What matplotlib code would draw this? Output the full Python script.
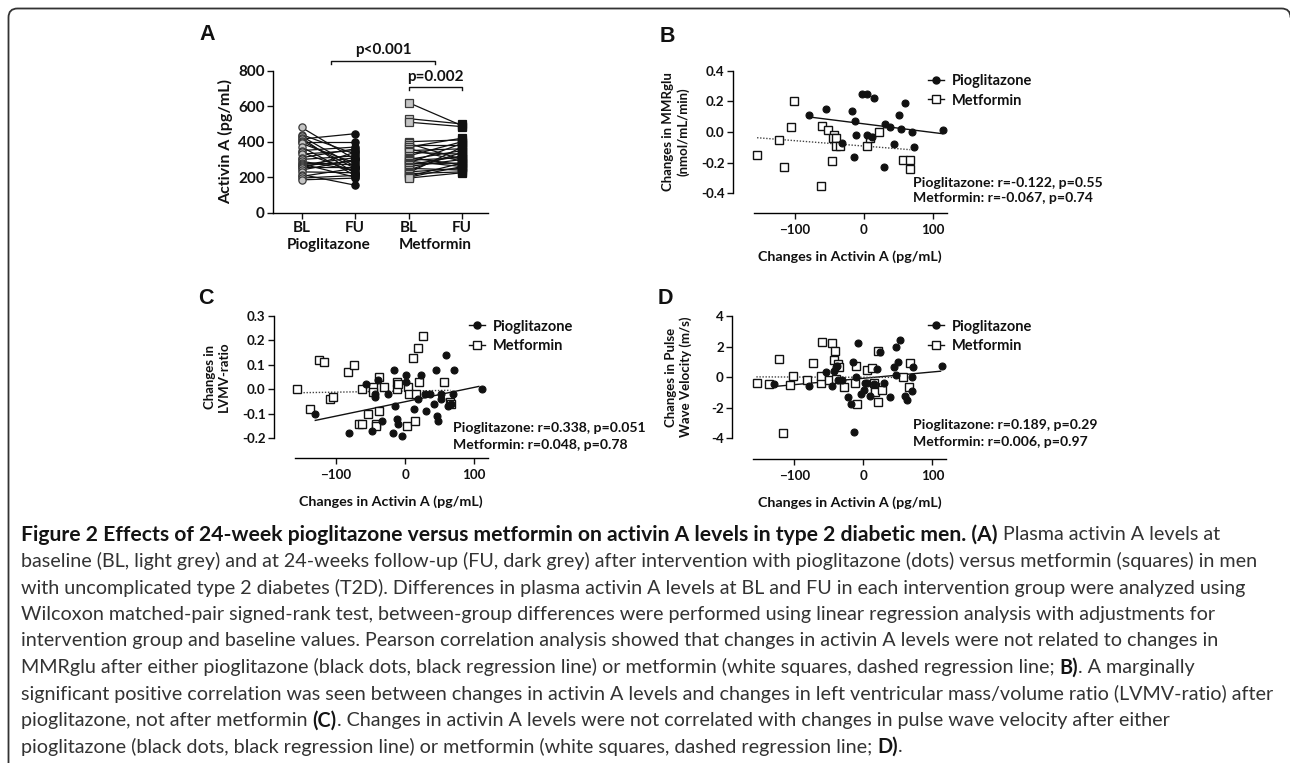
import matplotlib
matplotlib.use('Agg')
import matplotlib.pyplot as plt
from matplotlib.patches import PathPatch
from matplotlib.path import Path
from matplotlib.lines import Line2D
from matplotlib.transforms import IdentityTransform
from matplotlib.ticker import FormatStrFormatter

# ---------------- data ----------------
# Panel A: paired activin A levels (pg/mL)
groups_A = ["Pioglitazone", "Metformin"]
timepoints_A = ["BL", "FU", "BL", "FU"]
pio_bl = [480, 440, 430, 420, 415, 405, 400, 390, 370, 350, 340, 330, 310, 300,
          290, 280, 275, 270, 265, 260, 250, 240, 230, 215, 205, 195, 185]
pio_fu = [300, 330, 260, 220, 445, 250, 400, 280, 210, 370, 230, 350, 360, 320,
          240, 270, 200, 310, 290, 260, 340, 300, 225, 155, 250, 210, 195]
met_bl = [620, 530, 510, 400, 390, 380, 370, 360, 350, 340, 320, 310, 300, 295,
          290, 280, 275, 270, 260, 250, 240, 230, 225, 220, 205, 200, 195]
met_fu = [490, 500, 485, 410, 300, 380, 420, 290, 360, 330, 400, 270, 350, 310,
          260, 390, 280, 320, 300, 240, 340, 250, 370, 230, 280, 260, 225]
p_between = "p<0.001"
p_within_met = "p=0.002"

# Panel B: change in activin A vs change in MMRglu
B_pio_x = [-79, -55, -17, -13, -11, -14, -32, -3, 4, 14, 4, 11, 30, 38, 43, 29, 51, 53, 60, 70, 72, 114]
B_pio_y = [0.11, 0.15, 0.14, 0.07, -0.02, -0.16, -0.07, 0.25, 0.25, 0.22, -0.02, -0.03, 0.05, 0.03,
           -0.08, -0.23, 0.11, 0.02, 0.19, 0.00, -0.10, 0.01]
B_met_x = [-155, -123, -116, -106, -101, -63, -61, -52, -46, -43, -45, -41, -41, -35, 5, 9, 22, 57, 67, 66]
B_met_y = [-0.15, -0.05, -0.23, 0.03, 0.20, -0.35, 0.04, 0.01, -0.19, -0.02, -0.04, -0.04, -0.09,
           -0.09, -0.09, -0.04, 0.00, -0.18, -0.18, -0.24]
B_pio_fit_x, B_pio_fit_y = [-79, 114], [0.098, -0.011]
B_met_fit_x, B_met_fit_y = [-155, 67], [-0.037, -0.115]
B_stats = ["Pioglitazone: r=-0.122, p=0.55", "Metformin: r=-0.067, p=0.74"]

# Panel C: change in activin A vs change in LVMV-ratio
C_pio_x = [-130, -81, -56, -48, -44, -43, -39, -34, -24, -18, -16, -14, -12, -10, -5, 2, 2, 13, 19,
           23, 29, 36, 30, 45, 42, 46, 48, 52, 52, 59, 62, 69, 71, 66, 112]
C_pio_y = [-0.10, -0.18, 0.02, -0.17, -0.02, -0.03, 0.04, -0.13, -0.02, -0.18, 0.08, -0.07, -0.12,
           -0.14, -0.19, 0.06, 0.03, -0.08, -0.04, 0.06, -0.02, -0.02, -0.09, 0.08, -0.06, -0.11,
           -0.13, -0.02, -0.04, 0.14, -0.07, -0.02, 0.08, -0.06, 0.00]
C_met_x = [-156, -138, -125, -118, -108, -104, -83, -74, -66, -62, -62, -53, -47, -46, -42, -42, -38,
           -38, -31, -12, -11, -10, 3, 5, 6, 11, 14, 16, 19, 20, 26, 57, 65, 66]
C_met_y = [0.00, -0.08, 0.12, 0.11, -0.04, -0.03, 0.07, 0.10, -0.14, -0.14, 0.00, -0.10, 0.01, -0.01,
           -0.14, -0.15, -0.09, 0.05, 0.01, 0.00, 0.03, 0.02, -0.15, 0.01, -0.02, 0.13, -0.13, -0.02,
           0.17, 0.03, 0.22, 0.03, -0.05, -0.06]
C_pio_fit_x, C_pio_fit_y = [-130, 107], [-0.127, 0.012]
C_met_fit_x, C_met_fit_y = [-156, 66], [-0.014, -0.004]
C_stats = ["Pioglitazone: r=0.338, p=0.051", "Metformin: r=0.048, p=0.78"]

# Panel D: change in activin A vs change in pulse wave velocity
D_pio_x = [-129, -79, -54, -46, -43, -39, -38, -36, -31, -22, -18, -15, -13, -10, -7, -4, 2, 1, 6, 9,
           15, 20, 24, 30, 38, 44, 48, 48, 51, 53, 61, 64, 70, 71, 72, 114]
D_pio_y = [-0.43, -0.60, 0.33, -0.55, 0.43, 0.65, 0.76, -0.17, -0.20, -1.30, -1.78, 0.98, -3.59,
           -0.02, 2.24, -1.13, -0.37, -0.87, -0.39, -1.26, -0.43, 0.54, 1.63, -0.39, -1.30, 0.65,
           1.96, 0.17, 1.00, 2.43, -1.20, -1.48, -0.91, 0.04, 0.65, 0.70]
D_met_x = [-154, -137, -122, -117, -106, -102, -82, -73, -62, -60, -61, -46, -41, -43, -50, -36, -35,
           -40, -28, -12, -9, -10, 6, 13, 21, 17, 16, 17, 22, 27, 58, 68, 66]
D_met_y = [-0.40, -0.43, 1.17, -3.65, -0.48, 0.05, -0.20, 0.90, -0.40, 2.28, 0.10, 2.26, 1.74, 1.10,
           -0.20, 0.87, 0.65, -0.10, -0.65, -0.37, -1.78, 0.70, 0.50, 0.60, 1.74, -0.65, -0.40,
           -0.98, -1.63, -0.87, 0.00, 0.90, -0.65]
D_pio_fit_x, D_pio_fit_y = [-129, 112], [-0.61, 0.39]
D_met_fit_x, D_met_fit_y = [-155, 68], [0.02, -0.02]
D_stats = ["Pioglitazone: r=0.189, p=0.29", "Metformin: r=0.006, p=0.97"]

x_label = "Changes in Activin A (pg/mL)"
series_names = ["Pioglitazone", "Metformin"]

caption_lines = [
    [("Figure 2 Effects of 24-week pioglitazone versus metformin on activin A levels in type 2 diabetic men. (A)", 'title'),
     (" Plasma activin A levels at", 'body')],
    [("baseline (BL, light grey) and at 24-weeks follow-up (FU, dark grey) after intervention with pioglitazone (dots) versus metformin (squares) in men", 'body')],
    [("with uncomplicated type 2 diabetes (T2D). Differences in plasma activin A levels at BL and FU in each intervention group were analyzed using", 'body')],
    [("Wilcoxon matched-pair signed-rank test, between-group differences were performed using linear regression analysis with adjustments for", 'body')],
    [("intervention group and baseline values. Pearson correlation analysis showed that changes in activin A levels were not related to changes in", 'body')],
    [("MMRglu after either pioglitazone (black dots, black regression line) or metformin (white squares, dashed regression line; ", 'body'),
     ("B)", 'bold'), (". A marginally", 'body')],
    [("significant positive correlation was seen between changes in activin A levels and changes in left ventricular mass/volume ratio (LVMV-ratio) after", 'body')],
    [("pioglitazone, not after metformin ", 'body'), ("(C)", 'bold'),
     (". Changes in activin A levels were not correlated with changes in pulse wave velocity after either", 'body')],
    [("pioglitazone (black dots, black regression line) or metformin (white squares, dashed regression line; ", 'body'),
     ("D)", 'bold'), (".", 'body')],
]

# ---------------- figure ----------------
W, H = 1290, 763
DPI = 100
plt.rcParams['font.family'] = ['Lato', 'DejaVu Sans']
plt.rcParams['axes.linewidth'] = 1.0
fig = plt.figure(figsize=(W / DPI, H / DPI), dpi=DPI)
fig.patch.set_facecolor('white')
INK = '#111111'


def px_axes(left, top, right, bottom):
    return fig.add_axes([left / W, 1 - bottom / H, (right - left) / W, (bottom - top) / H])


def fx(px):
    return px / W


def fy(py):
    return 1 - py / H


# frame: left and top border with rounded corners (display pixel coords, y up)
R = 9
xl, xr, yt = 8.5, 1290.5, H - 8.5
frame_path = Path(
    [(xl, -10), (xl, yt - R), (xl, yt), (xl + R, yt), (xr - R, yt), (xr, yt), (xr, yt - R)],
    [Path.MOVETO, Path.LINETO, Path.CURVE3, Path.CURVE3, Path.LINETO, Path.CURVE3, Path.CURVE3])
frame = PathPatch(frame_path, fill=False, edgecolor='#333333', linewidth=1.3)
frame.set_transform(IdentityTransform())
fig.add_artist(frame)

# ---------------- Panel A ----------------
A_FS = 11
axA = px_axes(273.3, 70.7, 488.3, 212.7)
axA.set_xlim(0.47, 4.49)
axA.set_ylim(0, 800)
pos = [1, 2, 3, 4]
for b, f in zip(pio_bl, pio_fu):
    axA.plot([pos[0], pos[1]], [b, f], color=INK, lw=0.9, zorder=2)
for b, f in zip(met_bl, met_fu):
    axA.plot([pos[2], pos[3]], [b, f], color=INK, lw=0.9, zorder=2)
axA.plot([pos[0]] * len(pio_bl), pio_bl, ls='none', marker='o', ms=5.2, mfc='#c4c4c4', mec='#3a3a3a',
         mew=0.9, zorder=3, clip_on=False)
axA.plot([pos[1]] * len(pio_fu), pio_fu, ls='none', marker='o', ms=5.2, mfc=INK, mec=INK,
         mew=0.9, zorder=3, clip_on=False)
axA.plot([pos[2]] * len(met_bl), met_bl, ls='none', marker='s', ms=5.2, mfc='#c4c4c4', mec='#3a3a3a',
         mew=0.9, zorder=3, clip_on=False)
axA.plot([pos[3]] * len(met_fu), met_fu, ls='none', marker='s', ms=5.2, mfc=INK, mec=INK,
         mew=0.9, zorder=3, clip_on=False)
axA.spines['top'].set_visible(False)
axA.spines['right'].set_visible(False)
axA.set_yticks([0, 200, 400, 600, 800])
axA.set_xticks(pos)
axA.set_xticklabels(timepoints_A)
axA.tick_params(axis='both', direction='out', length=4, width=1.0, colors=INK, labelsize=A_FS, pad=2)
for lab in axA.get_xticklabels() + axA.get_yticklabels():
    lab.set_fontweight('bold')
axA.set_ylabel("Activin A (pg/mL)", fontsize=11.5, fontweight='bold', color=INK, labelpad=4)
axA.text(1.5, -0.225, groups_A[0], transform=axA.get_xaxis_transform(), ha='center', va='center',
         fontsize=A_FS, fontweight='bold', color=INK)
axA.text(3.5, -0.225, groups_A[1], transform=axA.get_xaxis_transform(), ha='center', va='center',
         fontsize=A_FS, fontweight='bold', color=INK)
# significance brackets
for (x0, x1, yb, txt, yt_) in [(1.55, 3.5, 856, p_between, 918), (3.0, 4.0, 710, p_within_met, 765)]:
    axA.plot([x0, x0, x1, x1], [yb - 16, yb, yb, yb - 16], color=INK, lw=1.0, clip_on=False)
    axA.text((x0 + x1) / 2, yt_, txt, ha='center', va='center', fontsize=A_FS, fontweight='bold',
             color=INK, clip_on=False)

# ---------------- scatter panels ----------------
XL = (-190, 121)
XSPAN = (-160, 120)


def scatter_panel(ax, px, py, mx, my, pfx, pfy, mfx, mfy, yticks, fmt, ylim, ylabel, stats,
                  leg_x, leg_y, stat_x, stat_y, ylab_right_px, ax_left_px):
    ax.set_xlim(*XL)
    ax.set_ylim(*ylim)
    ax.plot(pfx, pfy, color=INK, lw=1.0, zorder=2)
    ax.plot(mfx, mfy, color='#444444', lw=1.0, ls=(0, (1, 1.2)), zorder=2)
    ax.plot(mx, my, ls='none', marker='s', ms=5.2, mfc='white', mec=INK, mew=1.0, zorder=3,
            clip_on=False)
    ax.plot(px, py, ls='none', marker='o', ms=5.0, mfc=INK, mec=INK, mew=0.8, zorder=4,
            clip_on=False)
    for s in ['top', 'right']:
        ax.spines[s].set_visible(False)
    ax.spines['left'].set_bounds(yticks[0], yticks[-1])
    ax.spines['bottom'].set_bounds(*XSPAN)
    ax.set_yticks(yticks)
    ax.yaxis.set_major_formatter(FormatStrFormatter(fmt))
    ax.set_xticks([-100, 0, 100])
    ax.tick_params(axis='both', direction='out', length=4, width=1.0, colors=INK, labelsize=9.6, pad=2)
    ax.tick_params(axis='x', pad=3.5)
    for lab in ax.get_xticklabels() + ax.get_yticklabels():
        lab.set_fontweight('bold')
    ax.set_ylabel(ylabel, fontsize=9.5, fontweight='bold', color=INK, linespacing=1.2)
    ycen = ((yticks[0] + yticks[-1]) / 2 - ylim[0]) / (ylim[1] - ylim[0])
    ax.yaxis.set_label_coords((ylab_right_px - ax_left_px) / (0.69 * (XL[1] - XL[0])), ycen)
    ax.set_xlabel(x_label, fontsize=10.3, fontweight='bold', color=INK)
    ax.xaxis.set_label_coords((sum(XSPAN) / 2 - XL[0]) / (XL[1] - XL[0]), -0.26)
    handles = [Line2D([0], [0], color=INK, lw=1.0, marker='o', ms=5.0, mfc=INK, mec=INK),
               Line2D([0], [0], color=INK, lw=1.0, marker='s', ms=5.2, mfc='white', mec=INK)]
    leg = ax.legend(handles, series_names, loc='upper left', bbox_to_anchor=(fx(leg_x), fy(leg_y)),
                    bbox_transform=fig.transFigure, frameon=False, fontsize=10.5, handlelength=1.1,
                    handletextpad=0.55, labelspacing=0.35, borderpad=0, borderaxespad=0)
    for t in leg.get_texts():
        t.set_fontweight('bold')
        t.set_color(INK)
    fig.text(fx(stat_x), fy(stat_y[0]), stats[0], ha='left', va='center', fontsize=10.1,
             fontweight='bold', color=INK)
    fig.text(fx(stat_x), fy(stat_y[1]), stats[1], ha='left', va='center', fontsize=10.1,
             fontweight='bold', color=INK)


bl = 864 - 190 * 0.69
axB = px_axes(bl, 70.7, 864 + 121 * 0.69, 213.3)
scatter_panel(axB, B_pio_x, B_pio_y, B_met_x, B_met_y, B_pio_fit_x, B_pio_fit_y, B_met_fit_x,
              B_met_fit_y, [-0.4, -0.2, 0.0, 0.2, 0.4], '%.1f', (-0.53, 0.4),
              "Changes in MMRglu\n(nmol/mL/min)", B_stats, 928, 74.5, 913, (183, 198.5), 689, bl)

cl = 405 - 190 * 0.69
axC = px_axes(cl, 316, 405 + 121 * 0.69, 458.3)
scatter_panel(axC, C_pio_x, C_pio_y, C_met_x, C_met_y, C_pio_fit_x, C_pio_fit_y, C_met_fit_x,
              C_met_fit_y, [-0.2, -0.1, 0.0, 0.1, 0.2, 0.3], '%.1f', (-0.282, 0.3),
              "Changes in\nLVMV-ratio", C_stats, 469, 319.5, 453, (427.5, 445), 230, cl)

dl = 863.3 - 190 * 0.69
axD = px_axes(dl, 316, 863.3 + 121 * 0.69, 459.3)
scatter_panel(axD, D_pio_x, D_pio_y, D_met_x, D_met_y, D_pio_fit_x, D_pio_fit_y, D_met_fit_x,
              D_met_fit_y, [-4, -2, 0, 2, 4], '%d', (-5.37, 4),
              "Changes in Pulse\nWave Velocity (m/s)", D_stats, 928, 319.5, 913, (425, 441.5), 692, dl)

# panel letters
for letter, (lx, ly) in zip("ABCD", [(207, 35), (667, 36), (206, 298), (665, 298)]):
    fig.text(fx(lx), fy(ly), letter, ha='center', va='center', fontsize=15.5, fontweight='bold',
             family=['Liberation Sans', 'DejaVu Sans'], color=INK)

# ---------------- caption ----------------
renderer = fig.canvas.get_renderer()
probe = fig.text(0, 0, caption_lines[1][0][0], fontsize=10, fontweight='normal')
wprobe = probe.get_window_extent(renderer).width
probe.remove()
cap_size = 10 * (1236.0 / wprobe)
styles = {
    'title': dict(fontsize=cap_size * 1.075, fontweight='bold', color='#141414'),
    'bold': dict(fontsize=cap_size, fontweight='bold', color='#141414'),
    'body': dict(fontsize=cap_size, fontweight='normal', color='#333333'),
}

y0 = 534.5
dy = 26.55
for i, segs in enumerate(caption_lines):
    xcur = 21.0
    ypos = y0 + i * dy
    for txt, kind in segs:
        t = fig.text(fx(xcur), fy(ypos), txt, ha='left', va='center', **styles[kind])
        xcur += t.get_window_extent(renderer).width

fig.savefig('out.png', dpi=DPI, facecolor='white')
